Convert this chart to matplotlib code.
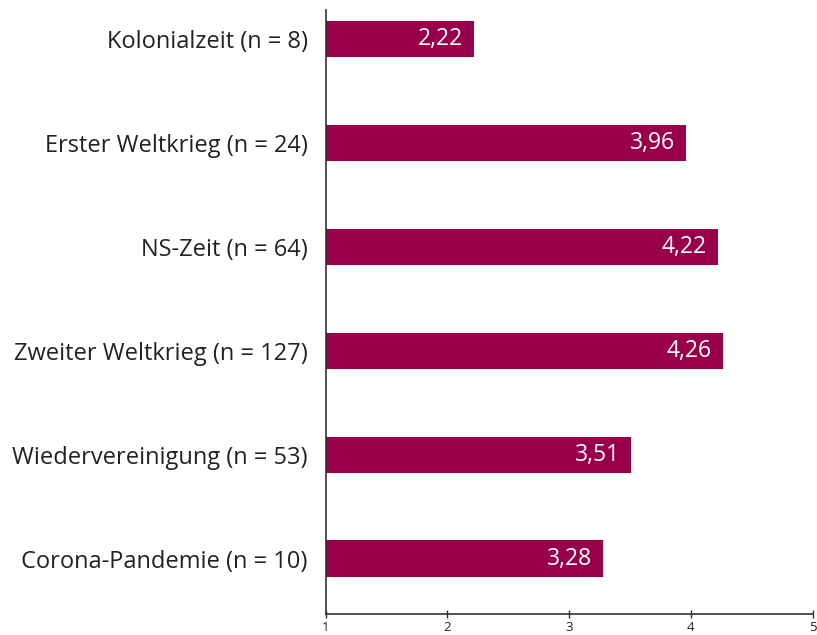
import matplotlib
matplotlib.use("Agg")
import matplotlib.pyplot as plt

categories = ["Kolonialzeit (n = 8)", "Erster Weltkrieg (n = 24)", "NS-Zeit (n = 64)",
              "Zweiter Weltkrieg (n = 127)", "Wiedervereinigung (n = 53)", "Corona-Pandemie (n = 10)"]
values = [2.22, 3.96, 4.22, 4.26, 3.51, 3.28]
xticks = [1, 2, 3, 4, 5]

plt.rcParams['font.family'] = ['Open Sans', 'DejaVu Sans']
color = "#98004A"
txt = "#222222"

fig = plt.figure(figsize=(8.17, 6.35), dpi=100)
ax = fig.add_axes([0.3987, 0.0335, 0.5960, 0.9508])
ypos = list(range(len(categories)))
base = 1
ax.barh(ypos, [v - base for v in values], left=base, height=0.35, color=color)
for y, v in zip(ypos, values):
    ax.text(v - 0.09, y, f"{v:.2f}".replace(".", ","), ha="right", va="center",
            color="white", fontsize=16.5)
ax.set_yticks(ypos)
ax.set_yticklabels(categories, fontsize=17, color=txt)
ax.tick_params(axis="y", length=0, pad=13)
ax.set_xlim(1, 5)
ax.set_ylim(5.53, -0.28)
ax.set_xticks(xticks)
ax.set_xticklabels([str(t) for t in xticks], fontsize=9.5, color=txt)
ax.tick_params(axis="x", direction="inout", length=6, width=1, color="#333333", pad=2)
for s in ["top", "right"]:
    ax.spines[s].set_visible(False)
for s in ["left", "bottom"]:
    ax.spines[s].set_color("#333333")
    ax.spines[s].set_linewidth(1.2)
fig.savefig("out.png", dpi=100)
